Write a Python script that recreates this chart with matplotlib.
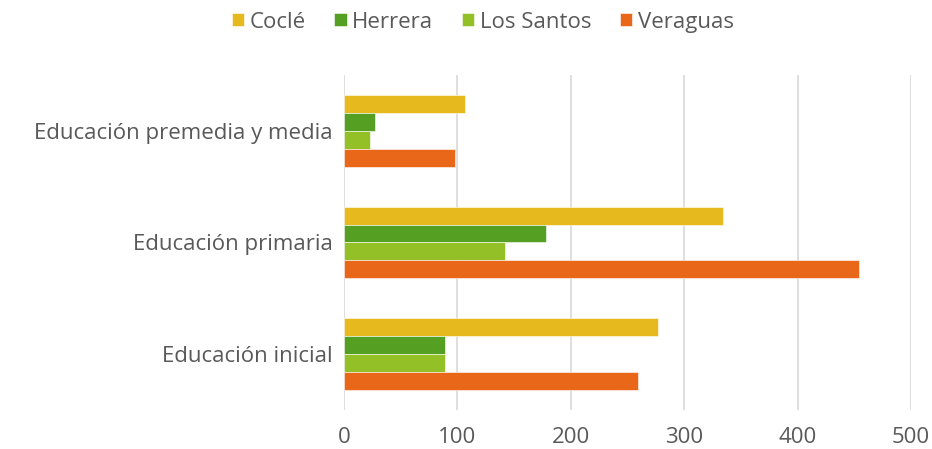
import numpy as np
import matplotlib
matplotlib.use('Agg')
from matplotlib import pyplot as plt

# data
categories = ['Educación inicial', 'Educación primaria', 'Educación premedia y media']
series = ['Coclé', 'Herrera', 'Los Santos', 'Veraguas']
cocle = [277, 334, 107]
herrera = [89, 178, 27]
los_santos = [89, 142, 23]
veraguas = [259, 454, 98]
colors = ['#E6B91E', '#55A023', '#92C026', '#E86719']
xticks = [0, 100, 200, 300, 400, 500]

plt.rc('font', family='Open Sans', size=16)
txt = '#595959'

fig = plt.figure(figsize=(9.32, 4.49), dpi=100)
ax = fig.add_axes([0.369, 0.087, 0.6085, 0.746])

y = np.arange(len(categories))
h = 0.16
vals = [cocle, herrera, los_santos, veraguas]
for i, (name, v, c) in enumerate(zip(series, vals, colors)):
    off = (1.5 - i) * h
    ax.barh(y + off, v, height=h, color=c, label=name, edgecolor='white', linewidth=0.4, zorder=3)

ax.set_xlim(0, 500)
ax.set_ylim(-0.5, 2.5)
ax.set_xticks(xticks)
ax.set_yticks(y)
ax.set_yticklabels(categories)
ax.grid(axis='x', color='#D9D9D9', linewidth=1.2, zorder=0)
for s in ax.spines.values():
    s.set_visible(False)
ax.tick_params(axis='both', length=0, colors=txt, labelsize=16)
ax.tick_params(axis='x', pad=12)
ax.tick_params(axis='y', pad=8)

fig.legend(loc='center', bbox_to_anchor=(0.518, 0.951), ncol=4, frameon=False,
           handlelength=0.55, handleheight=0.55, handletextpad=0.25, columnspacing=1.3,
           labelcolor=txt, fontsize=16)

fig.savefig('out.png', dpi=100)
